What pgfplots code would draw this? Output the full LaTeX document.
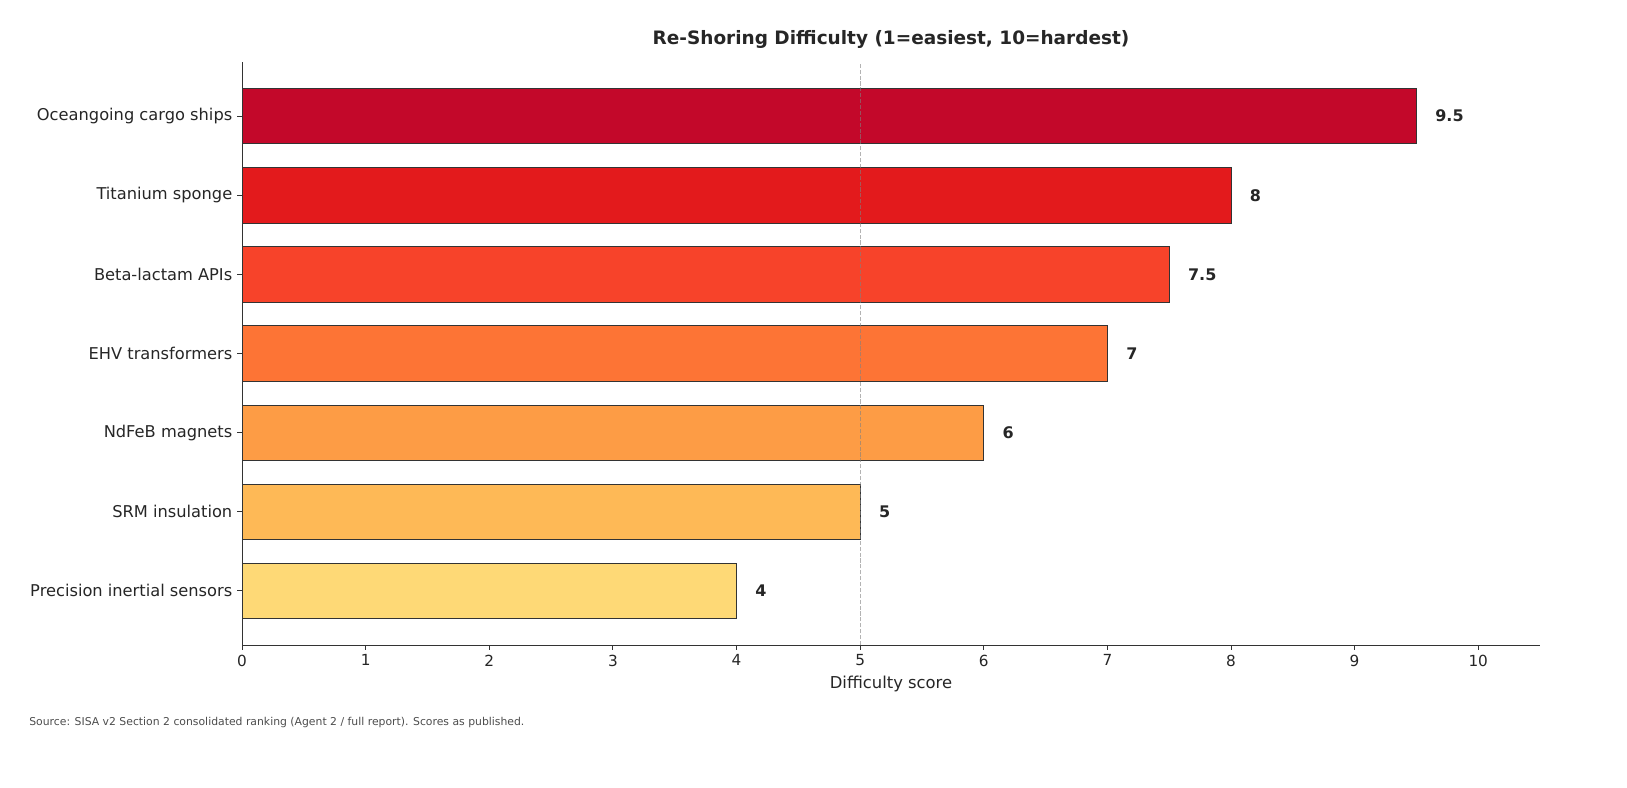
\documentclass[border=0pt]{standalone}
\usepackage{pgfplots}
\pgfplotsset{compat=1.18}
\usepackage{fontspec}
\setmainfont{DejaVu Sans}

\definecolor{txt}{HTML}{262626}
\definecolor{spine}{HTML}{333333}
\definecolor{cA}{HTML}{C3082A}
\definecolor{cB}{HTML}{E31A1C}
\definecolor{cC}{HTML}{F7432A}
\definecolor{cD}{HTML}{FD7435}
\definecolor{cE}{HTML}{FD9C45}
\definecolor{cF}{HTML}{FEB956}
\definecolor{cG}{HTML}{FED976}

\pgfplotsset{
  barstyle/.style={xbar, bar width=0.7, bar shift=0pt, draw=spine, line width=0.58bp,
    point meta=x, nodes near coords={\pgfmathprintnumber{\pgfplotspointmeta}},
    every node near coord/.append style={anchor=west, xshift=10bp, text=txt,
      font=\fontsize{11.5bp}{13bp}\selectfont\bfseries}},
}

\begin{document}
\begin{tikzpicture}[x=0.72bp,y=0.72bp]
\begin{axis}[
  at={(174.24bp,102.96bp)}, anchor=south west,
  scale only axis, width=934.56bp, height=419.76bp,
  xmin=0, xmax=10.5, ymin=-0.685, ymax=6.685,
  axis lines*=left,
  axis line style={-, color=spine, line width=0.58bp},
  xtick={0,1,...,10},
  ytick={0,1,...,6},
  yticklabels={Precision inertial sensors, SRM insulation, NdFeB magnets, EHV transformers, Beta-lactam APIs, Titanium sponge, Oceangoing cargo ships},
  tick align=outside, major tick length=3.5bp,
  tick style={color=spine, line width=0.58bp},
  /pgf/number format/assume math mode=true,
  xticklabel style={font=\fontsize{11bp}{13bp}\selectfont, text=txt},
  yticklabel style={font=\fontsize{11.7bp}{14bp}\selectfont, text=txt},
  xlabel={Difficulty score},
  xlabel style={font=\fontsize{11.8bp}{14bp}\selectfont, text=txt},
  clip=false,
]
\addplot[barstyle, fill=cG] coordinates {(4,0)};
\addplot[barstyle, fill=cF] coordinates {(5,1)};
\addplot[barstyle, fill=cE] coordinates {(6,2)};
\addplot[barstyle, fill=cD] coordinates {(7,3)};
\addplot[barstyle, fill=cC] coordinates {(7.5,4)};
\addplot[barstyle, fill=cB] coordinates {(8,5)};
\addplot[barstyle, fill=cA] coordinates {(9.5,6)};
\addplot[sharp plot, no marks, color=gray, opacity=0.6, line width=0.58bp,
  dash pattern=on 2.96bp off 1.28bp] coordinates {(5,-0.685) (5,6.685)};
\end{axis}
\node[text=txt, font=\fontsize{13.3bp}{15bp}\selectfont\bfseries] at (891,749) {Re-Shoring Difficulty (1=easiest, 10=hardest)};
\node[anchor=west, inner sep=0pt, text=black!70, font=\fontsize{7.8bp}{9bp}\selectfont] at (29,65) {Source: SISA v2 Section 2 consolidated ranking (Agent 2 / full report). Scores as published.};
\pgfresetboundingbox
\useasboundingbox (0,0) rectangle (1627,788);
\end{tikzpicture}
\end{document}
